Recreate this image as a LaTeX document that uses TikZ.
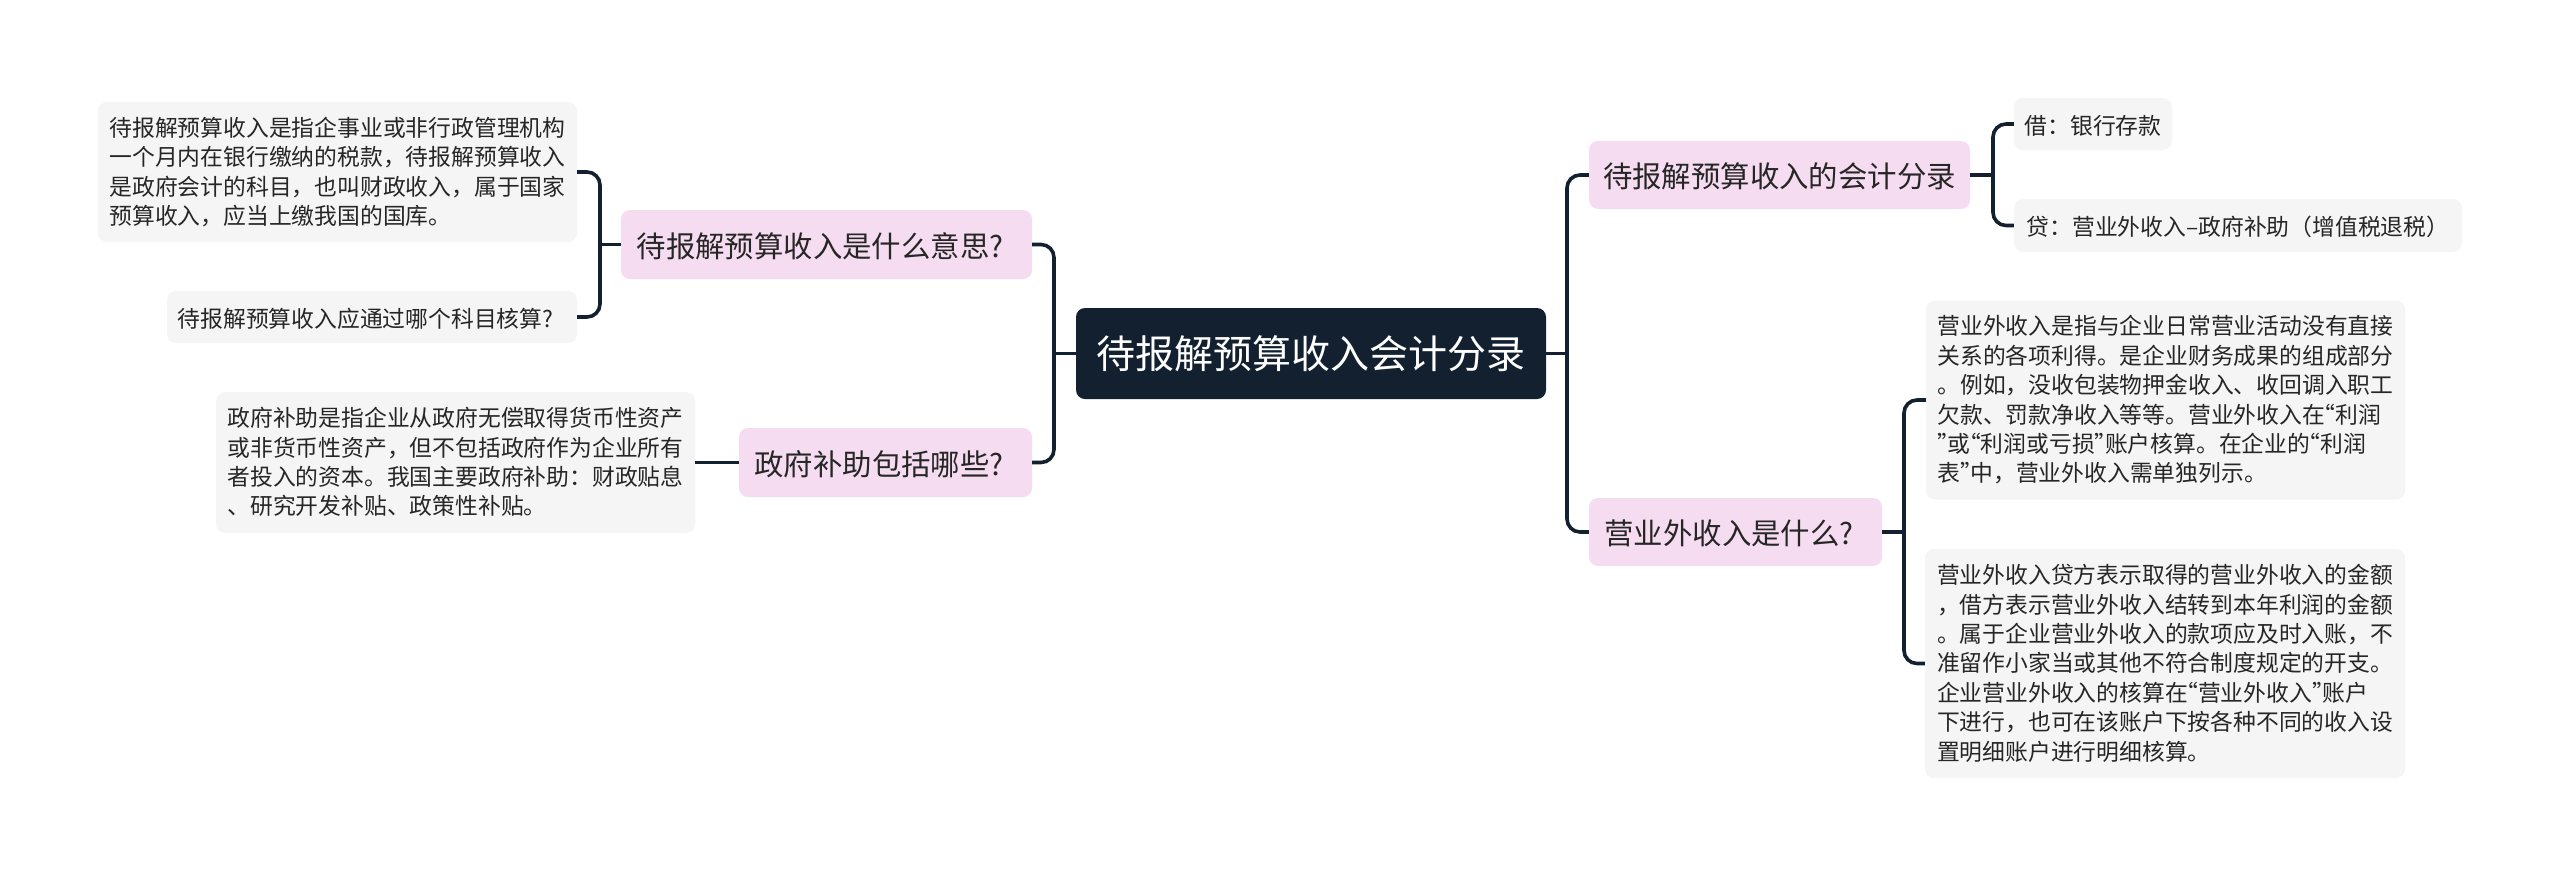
\documentclass[tikz,border=0pt]{standalone}
\usepackage{fontspec}
\setmainfont{Noto Sans CJK SC}
\definecolor{rootc}{HTML}{13202F}
\definecolor{pinkc}{HTML}{F5DCF0}
\definecolor{leafc}{HTML}{F5F5F5}
\newcommand{\qo}{\kern-0.55em“}
\newcommand{\qc}{”\kern-0.55em}
\newcommand{\qm}{?\kern13pt}
\newcommand{\fc}{^^^^ff0c}
\newcommand{\fk}{^^^^ff1a}
\newcommand{\po}{^^^^ff08}
\newcommand{\pc}{^^^^ff09}
\tikzset{
  x=1pt,y=-1pt,
  boxbase/.style={inner sep=0pt,rounded corners=9pt,align=left,
    execute at begin node={\rule{0pt}{1em}},execute at end node={\rule[-0.12em]{0pt}{0.12em}}},
  rootbox/.style={boxbase,fill=rootc,text=white,font=\fontsize{39}{46}\selectfont,
    execute at end node={\rule[-0.22em]{0pt}{0.22em}}},
  midbox/.style={boxbase,fill=pinkc,text=black!85,font=\fontsize{29.4}{36}\selectfont},
  leafbox/.style={boxbase,fill=leafc,text=black!85,font=\fontsize{22.8}{29.4}\selectfont},
  conn/.style={draw=rootc,line width=3.6pt,rounded corners=13pt,line cap=butt},
}
\begin{document}
\begin{tikzpicture}
\useasboundingbox[fill=white] (0,0) rectangle (2560,876);
\node[rootbox,minimum width=470,minimum height=91] (root) at (1311,353.5) {待报解预算收入会计分录};
\node[midbox,minimum width=411,minimum height=69] (p1) at (826.5,244.5) {待报解预算收入是什么意思\qm};
\node[midbox,minimum width=293,minimum height=69] (p2) at (885.5,462.5) {政府补助包括哪些\qm};
\node[midbox,minimum width=381,minimum height=68] (r1) at (1779.5,175) {待报解预算收入的会计分录};
\node[midbox,minimum width=293,minimum height=68] (r2) at (1735.5,532) {营业外收入是什么\qm};
\node[leafbox,minimum width=479,minimum height=140] (a1) at (337.5,172) {待报解预算收入是指企事业或非行政管理机构\\一个月内在银行缴纳的税款\fc{}待报解预算收入\\是政府会计的科目\fc{}也叫财政收入\fc{}属于国家\\预算收入\fc{}应当上缴我国的国库。};
\node[leafbox,minimum width=410,minimum height=52] (a2) at (372,317) {待报解预算收入应通过哪个科目核算\qm};
\node[leafbox,minimum width=479,minimum height=141] (b1) at (455.5,462.5) {政府补助是指企业从政府无偿取得货币性资产\\或非货币性资产\fc{}但不包括政府作为企业所有\\者投入的资本。我国主要政府补助\fk{}财政贴息\\、研究开发补贴、政策性补贴。};
\node[leafbox,minimum width=158,minimum height=52] (c1) at (2093,124) {借\fk{}银行存款};
\node[leafbox,minimum width=448,minimum height=53] (c2) at (2238,225.5) {贷\fk{}营业外收入–政府补助\po{}增值税退税\pc{}};
\node[leafbox,minimum width=479,minimum height=199] (d1) at (2165.5,400) {营业外收入是指与企业日常营业活动没有直接\\关系的各项利得。是企业财务成果的组成部分\\。例如\fc{}没收包装物押金收入、收回调入职工\\欠款、罚款净收入等等。营业外收入在\qo 利润\\\qc 或\qo 利润或亏损\qc 账户核算。在企业的\qo 利润\\表\qc 中\fc{}营业外收入需单独列示。};
\node[leafbox,minimum width=480,minimum height=229] (d2) at (2165,663.5) {营业外收入贷方表示取得的营业外收入的金额\\\fc{}借方表示营业外收入结转到本年利润的金额\\。属于企业营业外收入的款项应及时入账\fc{}不\\准留作小家当或其他不符合制度规定的开支。\\企业营业外收入的核算在\qo 营业外收入\qc 账户\\下进行\fc{}也可在该账户下按各种不同的收入设\\置明细账户进行明细核算。};
\coordinate (tl) at (1054,353);
\coordinate (tr) at (1567,353);
\coordinate (ta) at (600,244);
\coordinate (tc) at (1993,175);
\coordinate (td) at (1904,532);
\draw[conn] (root.west) -- (tl |- root.west);
\draw[conn] (p1.east) -- (tl |- p1.east) -- (tl |- p2.east) -- (p2.east);
\draw[conn] (root.east) -- (tr |- root.east);
\draw[conn] (r1.west) -- (tr |- r1.west) -- (tr |- r2.west) -- (r2.west);
\draw[conn] (p1.west) -- (ta |- p1.west);
\draw[conn] (a1.east) -- (ta |- a1.east) -- (ta |- a2.east) -- (a2.east);
\draw[conn] (p2.west) -- (b1.east);
\draw[conn] (r1.east) -- (tc |- r1.east);
\draw[conn] (c1.west) -- (tc |- c1.west) -- (tc |- c2.west) -- (c2.west);
\draw[conn] (r2.east) -- (td |- r2.east);
\draw[conn] (d1.west) -- (td |- d1.west) -- (td |- d2.west) -- (d2.west);
\end{tikzpicture}
\end{document}
